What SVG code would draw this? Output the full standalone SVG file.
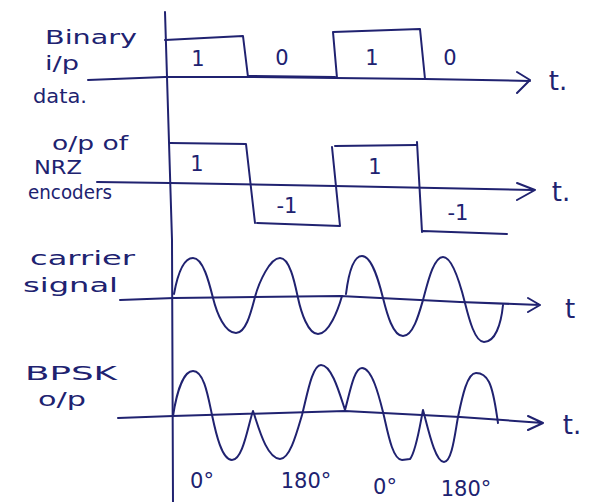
<svg xmlns="http://www.w3.org/2000/svg" width="606" height="502" viewBox="0 0 606 502">
<style>
.ink{fill:none;stroke:#202270;stroke-width:2;stroke-linecap:round;stroke-linejoin:round}
.lbl{font-family:"DejaVu Sans","Liberation Sans",sans-serif;fill:#202270;font-size:19px}
.val{font-family:"DejaVu Sans","Liberation Sans",sans-serif;fill:#202270;font-size:21px;text-anchor:middle}
.t{font-family:"DejaVu Sans","Liberation Sans",sans-serif;fill:#202270;font-size:26px;text-anchor:middle}
</style>
<rect width="606" height="502" fill="#ffffff"/>
<g id="connectors">
<path class="ink" d="M165,12 L172,240 L173,502"/>
<path class="ink" d="M88,80 L165,77 L248,77 L335,78 L425,79 L530,81 M517,72 L530,80 L517,93"/>
<path class="ink" d="M97,182 L170,183 L335,186 L533,190 M517,183 L535,190 L517,200"/>
<path class="ink" d="M120,300 L174,298 L340,296 L460,302 L540,305 M528,298 L540,305 L528,312"/>
<path class="ink" d="M118,418 L173,416 L345,411 L460,417 L543,423 M528,416 L543,423 L528,430"/>
</g>
<g id="binary-input">
<path class="ink" d="M165,40 L243,36 L248,77 M248,76 L335,77 M337,78 L333,32 L420,29 L425,79"/>
<text class="lbl" x="45" y="44" textLength="92" lengthAdjust="spacingAndGlyphs">Binary</text>
<text class="lbl" x="45" y="70" textLength="34" lengthAdjust="spacingAndGlyphs">i/p</text>
<text class="lbl" x="33" y="103" textLength="54" lengthAdjust="spacingAndGlyphs">data.</text>
<text class="val" x="198" y="66">1</text>
<text class="val" x="282" y="65">0</text>
<text class="val" x="372" y="65">1</text>
<text class="val" x="450" y="65">0</text>
<text class="t" x="558" y="90">t.</text>
</g>
<g id="nrz-output">
<path class="ink" d="M170,143 L246,144 L255,223 M257,223 L340,226 L332,147 M335,146 L416,145 M417,142 L422,232 M423,231 L507,234"/>
<text class="lbl" x="52" y="150" textLength="76" lengthAdjust="spacingAndGlyphs">o/p of</text>
<text class="lbl" x="34" y="174" textLength="48" lengthAdjust="spacingAndGlyphs">NRZ</text>
<text class="lbl" x="28" y="199" textLength="84" lengthAdjust="spacingAndGlyphs">encoders</text>
<text class="val" x="197" y="171">1</text>
<text class="val" x="287" y="213">-1</text>
<text class="val" x="375" y="174">1</text>
<text class="val" x="458" y="220">-1</text>
<text class="t" x="561" y="201">t.</text>
</g>
<g id="carrier-signal">
<path class="ink" d="M174,294 C178,272 184,258 193,258 C203,258 209,282 213,298 C217,314 225,333 236,333 C246,333 251,312 255,297 C259,282 270,258 280,258 C290,258 295,284 298,298 C301,312 308,334 318,334 C329,334 338,310 342,296"/>
<path class="ink" d="M346,294 C349,270 354,256 362,256 C372,256 379,282 383,298 C387,314 393,336 403,336 C413,336 419,314 423,300 C427,286 433,257 443,257 C453,257 461,287 465,303 C469,319 475,342 484,342 C495,342 501,325 503,305"/>
<text class="lbl" x="30" y="265" textLength="105" lengthAdjust="spacingAndGlyphs">carrier</text>
<text class="lbl" x="23" y="292" textLength="95" lengthAdjust="spacingAndGlyphs">signal</text>
<text class="t" x="570" y="318">t</text>
</g>
<g id="bpsk-output">
<path class="ink" d="M173,416 C177,390 184,371 193,371 C204,371 208,396 212,415 C216,434 222,460 232,460 C243,460 248,425 253,411 C258,425 266,458 280,459 C290,459 297,432 302,415 C307,396 312,365 321,365 C332,365 340,395 345,410 C350,392 354,368 362,368 C372,368 379,396 383,412 C387,428 392,460 402,460 L410,459 C416,452 420,425 423,410 C428,428 435,462 444,462 C452,462 455,433 458,417 C462,398 467,373 476,373 C482,373 486,376 489,382 C494,392 496,410 498,423"/>
<text class="lbl" x="25" y="380" textLength="92" lengthAdjust="spacingAndGlyphs">BPSK</text>
<text class="lbl" x="38" y="406" textLength="48" lengthAdjust="spacingAndGlyphs">o/p</text>
<text class="val" x="202" y="488">0°</text>
<text class="val" x="306" y="488">180°</text>
<text class="val" x="385" y="494">0°</text>
<text class="val" x="466" y="496">180°</text>
<text class="t" x="572" y="434">t.</text>
</g>
</svg>
